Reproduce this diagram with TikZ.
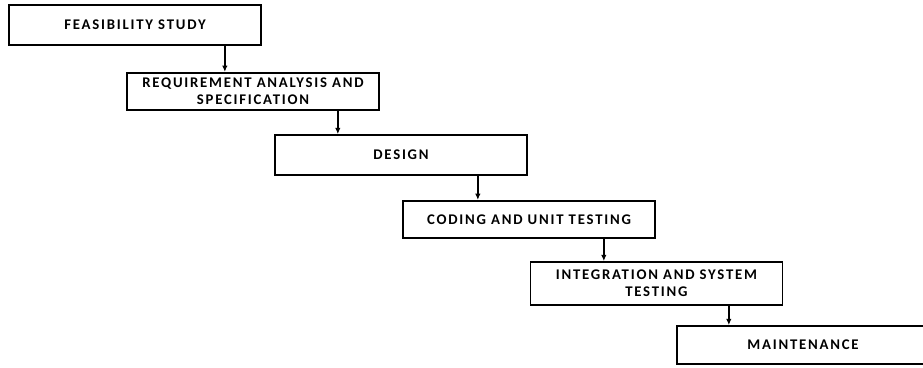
\documentclass[tikz,border=0pt]{standalone}
\usepackage{fontspec}
\setmainfont{Carlito}
\usetikzlibrary{arrows.meta}

\tikzset{
  phase/.style={draw=black, line width=1.2pt, fill=white, minimum width=6.3cm,
    minimum height=1cm, align=center, inner sep=2pt,
    font=\fontsize{10.5}{12}\selectfont\bfseries\addfontfeature{LetterSpace=12}},
  flow/.style={line width=1.1pt, -{Latex[length=1.6mm,width=1.4mm]}}
}

\begin{document}
\begin{tikzpicture}

\useasboundingbox (0,0) rectangle (23.075,9.175);

% Draw the phases
\node[phase] (feas) at (3.375,8.55) {FEASIBILITY STUDY};
\node[phase, minimum height=0.93cm] (req) at (6.325,6.89) {REQUIREMENT ANALYSIS AND\\SPECIFICATION};
\node[phase] (design) at (10.025,5.3) {DESIGN};
\node[phase, minimum height=0.93cm] (coding) at (13.225,3.69) {CODING AND UNIT TESTING};
\node[phase, minimum height=1.07cm] (integ) at (16.41,2.09) {INTEGRATION AND SYSTEM\\TESTING};
\node[phase, minimum height=0.95cm] (maint) at (20.075,0.55) {MAINTENANCE};

% Draw the arrows between phases
\draw[flow] ([xshift=-0.925cm]feas.south east) -- ([xshift=-0.925cm]feas.south east |- req.north);
\draw[flow] ([xshift=-1.05cm]req.south east) -- ([xshift=-1.05cm]req.south east |- design.north);
\draw[flow] ([xshift=-1.25cm]design.south east) -- ([xshift=-1.25cm]design.south east |- coding.north);
\draw[flow] ([xshift=-1.3cm]coding.south east) -- ([xshift=-1.3cm]coding.south east |- integ.north);
\draw[flow] ([xshift=-1.36cm]integ.south east) -- ([xshift=-1.36cm]integ.south east |- maint.north);

\end{tikzpicture}
\end{document}
